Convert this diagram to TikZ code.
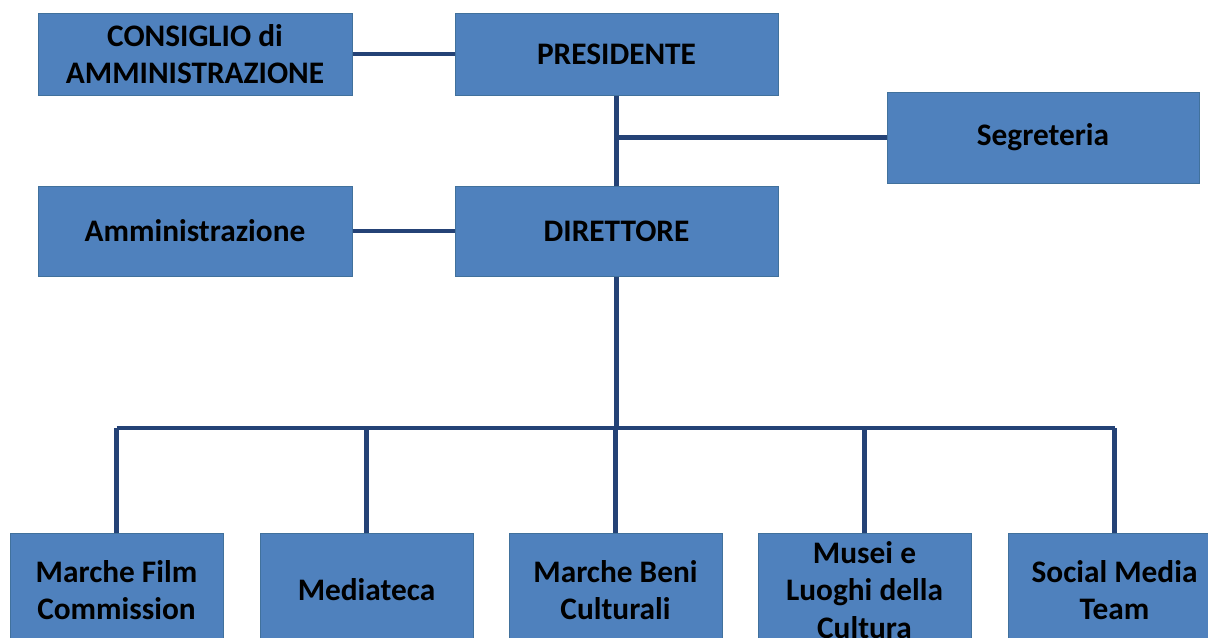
\documentclass[tikz,border=0pt]{standalone}
\usepackage{fontspec}
\setmainfont{Carlito}
\usepackage{xcolor}
\usetikzlibrary{positioning}

\definecolor{boxblue}{RGB}{79,129,189}
\definecolor{boxedge}{RGB}{65,113,156}
\definecolor{linkblue}{RGB}{36,66,118}

\tikzset{
  orgbox/.style={draw=boxedge, fill=boxblue, line width=0.75pt, align=center,
    inner sep=0pt, font=\fontsize{23.5}{28}\selectfont\bfseries},
  topbox/.style={orgbox, minimum width=235.5pt, minimum height=61.5pt},
  midbox/.style={orgbox, minimum width=242.25pt, minimum height=61.5pt},
  unitbox/.style={orgbox, minimum width=159.75pt, minimum height=85.5pt},
  link/.style={draw=linkblue, line width=3.4pt}
}

\begin{document}
\begin{tikzpicture}[x=0.75pt,y=0.75pt,yscale=-1,xscale=1]
\useasboundingbox (0,0) rectangle (1208,637);

%Shape: top row
\node (consiglio) [topbox] at (195,54) {CONSIGLIO di\\AMMINISTRAZIONE};
\node (presidente) [midbox] at (616.5,54) {PRESIDENTE};
\node (segreteria) [orgbox, minimum width=234pt, minimum height=68.25pt]
  at (1043,137.5) {Segreteria};
%Shape: second row
\node (amministrazione) [topbox, minimum height=67.5pt] at (195,231) {Amministrazione};
\node (direttore) [midbox, minimum height=67.5pt] at (616.5,231) {DIRETTORE};

%Shape: units
\node (film) [unitbox] at (116.5,590) {Marche Film\\Commission};
\node (mediateca) [unitbox] at (366.5,590) {Mediateca};
\node (beni) [unitbox] at (615.5,590) {Marche Beni\\Culturali};
\node (musei) [unitbox] at (864.5,590) {Musei e\\Luoghi della\\Cultura};
\node (social) [unitbox] at (1114.5,590) {Social Media\\Team};

\coordinate (bus) at (0,428);

%Straight Lines
\draw [link] (consiglio.east) -- (presidente.west);
\draw [link] (presidente.south) -- (direttore.north);
\draw [link] (presidente.south |- segreteria.west) -- (segreteria.west);
\draw [link] (amministrazione.east) -- (direttore.west);
\draw [link] (direttore.south) -- (direttore.south |- bus);
\draw [link] (film.north |- bus) -- (social.north |- bus);
\foreach \unit in {film, mediateca, beni, musei, social}
  \draw [link] (\unit.north |- bus) -- (\unit.north);

\end{tikzpicture}
\end{document}
